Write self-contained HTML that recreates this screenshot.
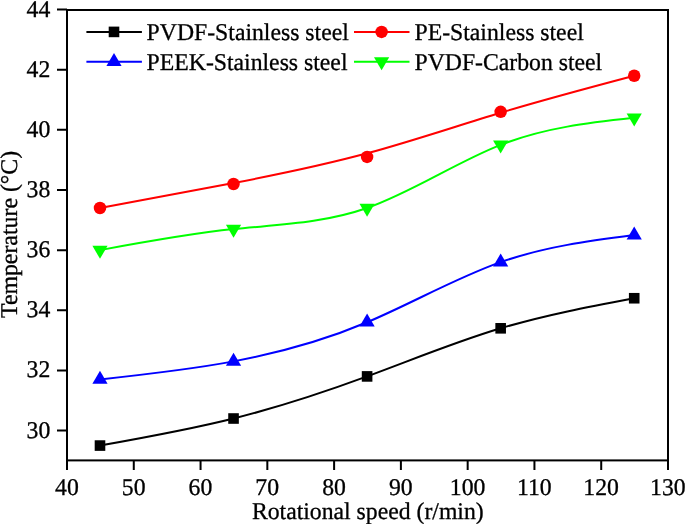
<!DOCTYPE html><html><head><meta charset="utf-8"><style>html,body{margin:0;padding:0;background:#fff;overflow:hidden;}svg{display:block;will-change:transform;}text{font-family:"Liberation Serif",serif;font-size:24px;fill:#000;text-rendering:geometricPrecision;stroke:#000;stroke-width:0.3px;}</style></head><body>
<svg width="685" height="524" viewBox="0 0 685 524">
<rect width="685" height="524" fill="#fff"/>
<rect x="67.0" y="10.0" width="601.0" height="450.4" fill="none" stroke="#000" stroke-width="2"/>
<path d="M57.0,430.53H67.0 M57.0,370.40H67.0 M57.0,310.27H67.0 M57.0,250.13H67.0 M57.0,190.00H67.0 M57.0,129.87H67.0 M57.0,69.73H67.0 M57.0,9.60H67.0 M67.00,460.6V470.1 M133.78,460.6V470.1 M200.56,460.6V470.1 M267.33,460.6V470.1 M334.11,460.6V470.1 M400.89,460.6V470.1 M467.67,460.6V470.1 M534.44,460.6V470.1 M601.22,460.6V470.1 M668.00,460.6V470.1" stroke="#000" stroke-width="2" fill="none"/>
<text transform="translate(50.30,437.53) scale(0.988,1)" text-anchor="end">30</text>
<text transform="translate(50.30,377.40) scale(0.988,1)" text-anchor="end">32</text>
<text transform="translate(50.30,317.27) scale(0.988,1)" text-anchor="end">34</text>
<text transform="translate(50.30,257.13) scale(0.988,1)" text-anchor="end">36</text>
<text transform="translate(50.30,197.00) scale(0.988,1)" text-anchor="end">38</text>
<text transform="translate(50.30,136.87) scale(0.988,1)" text-anchor="end">40</text>
<text transform="translate(50.30,76.73) scale(0.988,1)" text-anchor="end">42</text>
<text transform="translate(50.30,16.60) scale(0.988,1)" text-anchor="end">44</text>
<text transform="translate(66.90,495.20) scale(0.988,1)" text-anchor="middle">40</text>
<text transform="translate(133.68,495.20) scale(0.988,1)" text-anchor="middle">50</text>
<text transform="translate(200.46,495.20) scale(0.988,1)" text-anchor="middle">60</text>
<text transform="translate(267.23,495.20) scale(0.988,1)" text-anchor="middle">70</text>
<text transform="translate(334.01,495.20) scale(0.988,1)" text-anchor="middle">80</text>
<text transform="translate(400.79,495.20) scale(0.988,1)" text-anchor="middle">90</text>
<text transform="translate(467.57,495.20) scale(0.988,1)" text-anchor="middle">100</text>
<text transform="translate(534.34,495.20) scale(0.988,1)" text-anchor="middle">110</text>
<text transform="translate(601.12,495.20) scale(0.988,1)" text-anchor="middle">120</text>
<text transform="translate(667.90,495.20) scale(0.988,1)" text-anchor="middle">130</text>
<text transform="translate(251.90,519.00) scale(0.988,1)">Rotational speed (r/min)</text>
<text transform="translate(17,318) rotate(-90) scale(0.992,1)">Temperature (°C)</text>
<path d="M99.99,445.57 C144.51,437.64 189.03,429.71 233.54,418.51 C278.06,407.30 322.58,392.82 367.10,376.41 C411.62,360.00 456.14,341.66 500.66,328.31 C545.17,314.96 589.69,306.60 634.21,298.24" stroke="#000000" stroke-width="2" fill="none"/>
<path d="M99.99,208.04 C144.51,199.87 189.03,191.70 233.54,183.08 C278.06,174.47 322.58,165.40 367.10,153.32 C411.62,141.24 456.14,126.16 500.66,112.73 C545.17,99.30 589.69,87.52 634.21,75.75" stroke="#ff0000" stroke-width="2" fill="none"/>
<path d="M99.99,379.42 C144.51,374.59 189.03,369.76 233.54,361.38 C278.06,353.00 322.58,341.09 367.10,322.29 C411.62,303.50 456.14,277.84 500.66,262.16 C545.17,246.48 589.69,240.79 634.21,235.10" stroke="#0000ff" stroke-width="2" fill="none"/>
<path d="M99.99,250.13 C144.51,241.90 189.03,233.67 233.54,229.09 C278.06,224.51 322.58,223.57 367.10,208.04 C411.62,192.51 456.14,162.37 500.66,144.90 C545.17,127.43 589.69,122.64 634.21,117.84" stroke="#00ff00" stroke-width="2" fill="none"/>
<rect x="94.69" y="440.27" width="10.6" height="10.6" fill="#000000"/>
<rect x="228.24" y="413.21" width="10.6" height="10.6" fill="#000000"/>
<rect x="361.80" y="371.11" width="10.6" height="10.6" fill="#000000"/>
<rect x="495.36" y="323.01" width="10.6" height="10.6" fill="#000000"/>
<rect x="628.91" y="292.94" width="10.6" height="10.6" fill="#000000"/>
<circle cx="99.99" cy="208.04" r="6.25" fill="#ff0000"/>
<circle cx="233.54" cy="183.99" r="6.25" fill="#ff0000"/>
<circle cx="367.10" cy="156.93" r="6.25" fill="#ff0000"/>
<circle cx="500.66" cy="111.83" r="6.25" fill="#ff0000"/>
<circle cx="634.21" cy="75.75" r="6.25" fill="#ff0000"/>
<polygon points="99.99,370.75 92.39,383.75 107.59,383.75" fill="#0000ff"/>
<polygon points="233.54,352.71 225.94,365.71 241.14,365.71" fill="#0000ff"/>
<polygon points="367.10,313.62 359.50,326.62 374.70,326.62" fill="#0000ff"/>
<polygon points="500.66,253.49 493.06,266.49 508.26,266.49" fill="#0000ff"/>
<polygon points="634.21,226.43 626.61,239.43 641.81,239.43" fill="#0000ff"/>
<polygon points="99.99,258.80 92.39,245.80 107.59,245.80" fill="#00ff00"/>
<polygon points="233.54,237.76 225.94,224.76 241.14,224.76" fill="#00ff00"/>
<polygon points="367.10,216.71 359.50,203.71 374.70,203.71" fill="#00ff00"/>
<polygon points="500.66,153.57 493.06,140.57 508.26,140.57" fill="#00ff00"/>
<polygon points="634.21,126.51 626.61,113.51 641.81,113.51" fill="#00ff00"/>
<line x1="86.4" y1="31.9" x2="141.9" y2="31.9" stroke="#000000" stroke-width="2"/>
<rect x="108.70" y="26.60" width="10.6" height="10.6" fill="#000000"/>
<text transform="translate(146.60,40.20) scale(0.988,1)">PVDF-Stainless steel</text>
<line x1="354.0" y1="31.9" x2="409.5" y2="31.9" stroke="#ff0000" stroke-width="2"/>
<circle cx="381.60" cy="31.90" r="6.25" fill="#ff0000"/>
<text transform="translate(414.50,40.20) scale(0.988,1)">PE-Stainless steel</text>
<line x1="86.4" y1="61.7" x2="141.9" y2="61.7" stroke="#0000ff" stroke-width="2"/>
<polygon points="114.00,53.03 106.40,66.03 121.60,66.03" fill="#0000ff"/>
<text transform="translate(146.60,70.00) scale(0.988,1)">PEEK-Stainless steel</text>
<line x1="354.0" y1="61.7" x2="409.5" y2="61.7" stroke="#00ff00" stroke-width="2"/>
<polygon points="381.60,70.37 374.00,57.37 389.20,57.37" fill="#00ff00"/>
<text transform="translate(414.50,70.00) scale(0.988,1)">PVDF-Carbon steel</text>
</svg></body></html>
